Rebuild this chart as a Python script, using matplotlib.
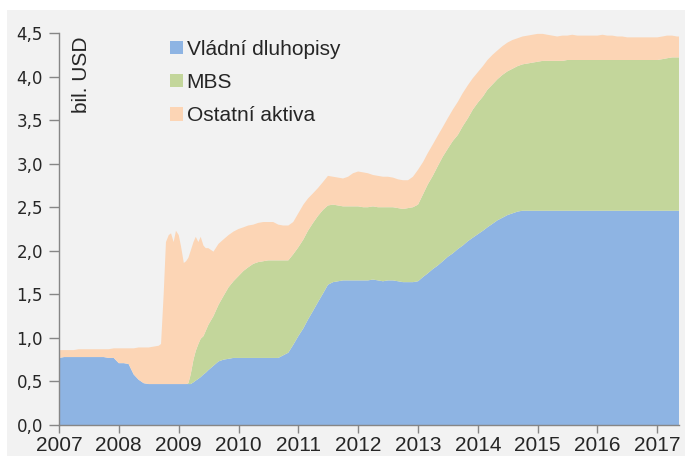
import matplotlib
matplotlib.use("Agg")
import matplotlib.pyplot as plt
from matplotlib.patches import Rectangle, Patch
import pandas as pd
from datetime import datetime

# ---- data (bil. USD) ----
# dates: monthly 2007-01..2008-08, semi-monthly 2008-09..2009-06, monthly 2009-07..2017-05, end 2017-05-15
dates = (list(pd.date_range("2007-01-01", "2008-08-01", freq="MS"))
         + list(pd.date_range("2008-09-01", "2009-06-15", freq="SMS"))
         + list(pd.date_range("2009-07-01", "2017-05-01", freq="MS"))
         + [pd.Timestamp("2017-05-15")])
dates = [d.to_pydatetime() for d in dates]

treasuries = [
    # 2007
    0.77, 0.78, 0.78, 0.78, 0.78, 0.78, 0.78, 0.78, 0.78, 0.78, 0.77, 0.77,
    # 2008 Jan-Aug
    0.71, 0.71, 0.70, 0.58, 0.52, 0.48, 0.47, 0.47,
    # 2008-09 .. 2009-06 (semi-monthly)
    0.47, 0.47, 0.47, 0.47, 0.47, 0.47, 0.47, 0.47, 0.47, 0.47,
    0.47, 0.47, 0.47, 0.47, 0.49, 0.51, 0.53, 0.55, 0.58, 0.60,
    # 2009 Jul-Dec
    0.63, 0.68, 0.73, 0.75, 0.76, 0.77,
    # 2010
    0.77, 0.77, 0.77, 0.77, 0.77, 0.77, 0.77, 0.77, 0.77, 0.80, 0.83, 0.92,
    # 2011
    1.02, 1.11, 1.21, 1.31, 1.41, 1.51, 1.61, 1.64, 1.65, 1.66, 1.66, 1.66,
    # 2012
    1.66, 1.66, 1.66, 1.67, 1.66, 1.65, 1.66, 1.66, 1.65, 1.64, 1.64, 1.64,
    # 2013
    1.65, 1.70, 1.74, 1.79, 1.83, 1.88, 1.93, 1.97, 2.02, 2.06, 2.11, 2.15,
    # 2014
    2.19, 2.23, 2.27, 2.31, 2.35, 2.38, 2.41, 2.43, 2.45, 2.46, 2.46, 2.46,
    # 2015
    2.46, 2.46, 2.46, 2.46, 2.46, 2.46, 2.46, 2.46, 2.46, 2.46, 2.46, 2.46,
    # 2016
    2.46, 2.46, 2.46, 2.46, 2.46, 2.46, 2.46, 2.46, 2.46, 2.46, 2.46, 2.46,
    # 2017 Jan-May + mid-May
    2.46, 2.46, 2.46, 2.46, 2.46, 2.46,
]

mbs = [
    # 2007
    0, 0, 0, 0, 0, 0, 0, 0, 0, 0, 0, 0,
    # 2008 Jan-Aug
    0, 0, 0, 0, 0, 0, 0, 0,
    # 2008-09 .. 2009-06 (semi-monthly)
    0, 0, 0, 0, 0, 0, 0, 0, 0, 0,
    0, 0, 0.01, 0.11, 0.26, 0.34, 0.40, 0.44, 0.44, 0.48,
    # 2009 Jul-Dec
    0.52, 0.57, 0.65, 0.73, 0.82, 0.88,
    # 2010
    0.94, 1.00, 1.04, 1.08, 1.10, 1.11, 1.12, 1.12, 1.12, 1.09, 1.06, 1.04,
    # 2011
    1.02, 1.02, 1.02, 1.01, 0.99, 0.96, 0.91, 0.89, 0.87, 0.85, 0.85, 0.85,
    # 2012
    0.85, 0.84, 0.84, 0.84, 0.84, 0.85, 0.84, 0.84, 0.84, 0.84, 0.85, 0.86,
    # 2013
    0.88, 0.95, 1.02, 1.07, 1.14, 1.20, 1.24, 1.29, 1.31, 1.37, 1.41, 1.47,
    # 2014
    1.51, 1.54, 1.58, 1.60, 1.62, 1.64, 1.65, 1.66, 1.67, 1.68, 1.69, 1.70,
    # 2015
    1.71, 1.72, 1.72, 1.72, 1.72, 1.72, 1.73, 1.73, 1.73, 1.73, 1.73, 1.73,
    # 2016
    1.73, 1.73, 1.73, 1.73, 1.73, 1.73, 1.73, 1.73, 1.73, 1.73, 1.73, 1.73,
    # 2017
    1.73, 1.74, 1.75, 1.76, 1.76, 1.76,
]

other = [
    # 2007
    0.09, 0.08, 0.08, 0.08, 0.09, 0.09, 0.09, 0.09, 0.09, 0.09, 0.10, 0.11,
    # 2008 Jan-Aug
    0.17, 0.17, 0.18, 0.30, 0.37, 0.41, 0.42, 0.43,
    # 2008-09 .. 2009-06 (semi-monthly)
    0.44, 0.46, 1.03, 1.63, 1.71, 1.73, 1.63, 1.76, 1.71, 1.58,
    1.39, 1.41, 1.44, 1.42, 1.35, 1.31, 1.17, 1.17, 1.04, 0.95,
    # 2009 Jul-Dec
    0.88, 0.74, 0.70, 0.65, 0.60, 0.57,
    # 2010
    0.54, 0.50, 0.48, 0.45, 0.45, 0.45, 0.44, 0.44, 0.41, 0.40, 0.40, 0.37,
    # 2011
    0.39, 0.40, 0.37, 0.34, 0.32, 0.32, 0.34, 0.32, 0.32, 0.32, 0.34, 0.38,
    # 2012
    0.40, 0.40, 0.39, 0.36, 0.36, 0.35, 0.35, 0.34, 0.33, 0.33, 0.32, 0.35,
    # 2013
    0.40, 0.37, 0.36, 0.36, 0.35, 0.34, 0.35, 0.36, 0.38, 0.38, 0.38, 0.36,
    # 2014
    0.35, 0.35, 0.34, 0.34, 0.33, 0.33, 0.33, 0.33, 0.32, 0.32, 0.32, 0.32,
    # 2015
    0.32, 0.31, 0.30, 0.29, 0.28, 0.29, 0.28, 0.29, 0.28, 0.28, 0.28, 0.28,
    # 2016
    0.28, 0.29, 0.28, 0.28, 0.27, 0.27, 0.26, 0.26, 0.26, 0.26, 0.26, 0.26,
    # 2017
    0.26, 0.26, 0.26, 0.25, 0.24, 0.24,
]

series_labels = ["Vládní dluhopisy", "MBS", "Ostatní aktiva"]
series_colors = ["#8EB4E3", "#C3D69B", "#FCD5B5"]
year_ticks = list(range(2007, 2018))
y_ticks = [0.0, 0.5, 1.0, 1.5, 2.0, 2.5, 3.0, 3.5, 4.0, 4.5]
unit_label = "bil. USD"

# ---- figure ----
W, H = 686, 459
fig = plt.figure(figsize=(W / 100, H / 100), dpi=100, facecolor="white")
fig.patches.append(Rectangle((7 / W, 3 / H), 678 / W, 446 / H, transform=fig.transFigure,
                             facecolor="#F2F2F2", edgecolor="none", zorder=-10))
ax = fig.add_axes([59 / W, 34 / H, (679.3 - 59) / W, (425 - 33) / H])
ax.set_facecolor("#F2F2F2")
ax.set_zorder(1)

ax.stackplot(dates, treasuries, mbs, other, colors=series_colors, linewidth=0)

ax.set_xlim(datetime(2007, 1, 1), datetime(2017, 5, 15))
ax.set_ylim(0, 4.5)

text_color = "#262626"
axis_color = "#868686"
ax.set_xticks([datetime(y, 1, 1) for y in year_ticks])
ax.set_xticklabels([str(y) for y in year_ticks], fontsize=15, family="Liberation Sans", color=text_color)
ax.set_yticks(y_ticks)
ax.set_yticklabels([f"{v:.1f}".replace(".", ",") for v in y_ticks], fontsize=12,
                   family="DejaVu Sans", color=text_color)
ax.tick_params(axis="x", length=6, width=1, color=axis_color, pad=2)
ax.tick_params(axis="y", length=7, width=1, color=axis_color, pad=4.5)

for s in ["top", "right"]:
    ax.spines[s].set_visible(False)
for s in ["left", "bottom"]:
    ax.spines[s].set_color(axis_color)
    ax.spines[s].set_linewidth(1)

handles = [Patch(facecolor=c, edgecolor="none") for c in series_colors]
leg = ax.legend(handles, series_labels, loc="upper left",
                bbox_to_anchor=(170 / W, 1 - 40 / H), bbox_transform=fig.transFigure,
                frameon=False, prop={"family": "Liberation Sans", "size": 15},
                handlelength=0.6, handleheight=0.6, handletextpad=0.2,
                labelspacing=0.68, borderpad=0, borderaxespad=0)
for t in leg.get_texts():
    t.set_color(text_color)

fig.text(81.5 / W, 1 - 74.5 / H, unit_label, rotation=90, ha="center", va="center",
         fontsize=15, family="Liberation Sans", color=text_color, zorder=5)

fig.savefig("out.png", dpi=100)
